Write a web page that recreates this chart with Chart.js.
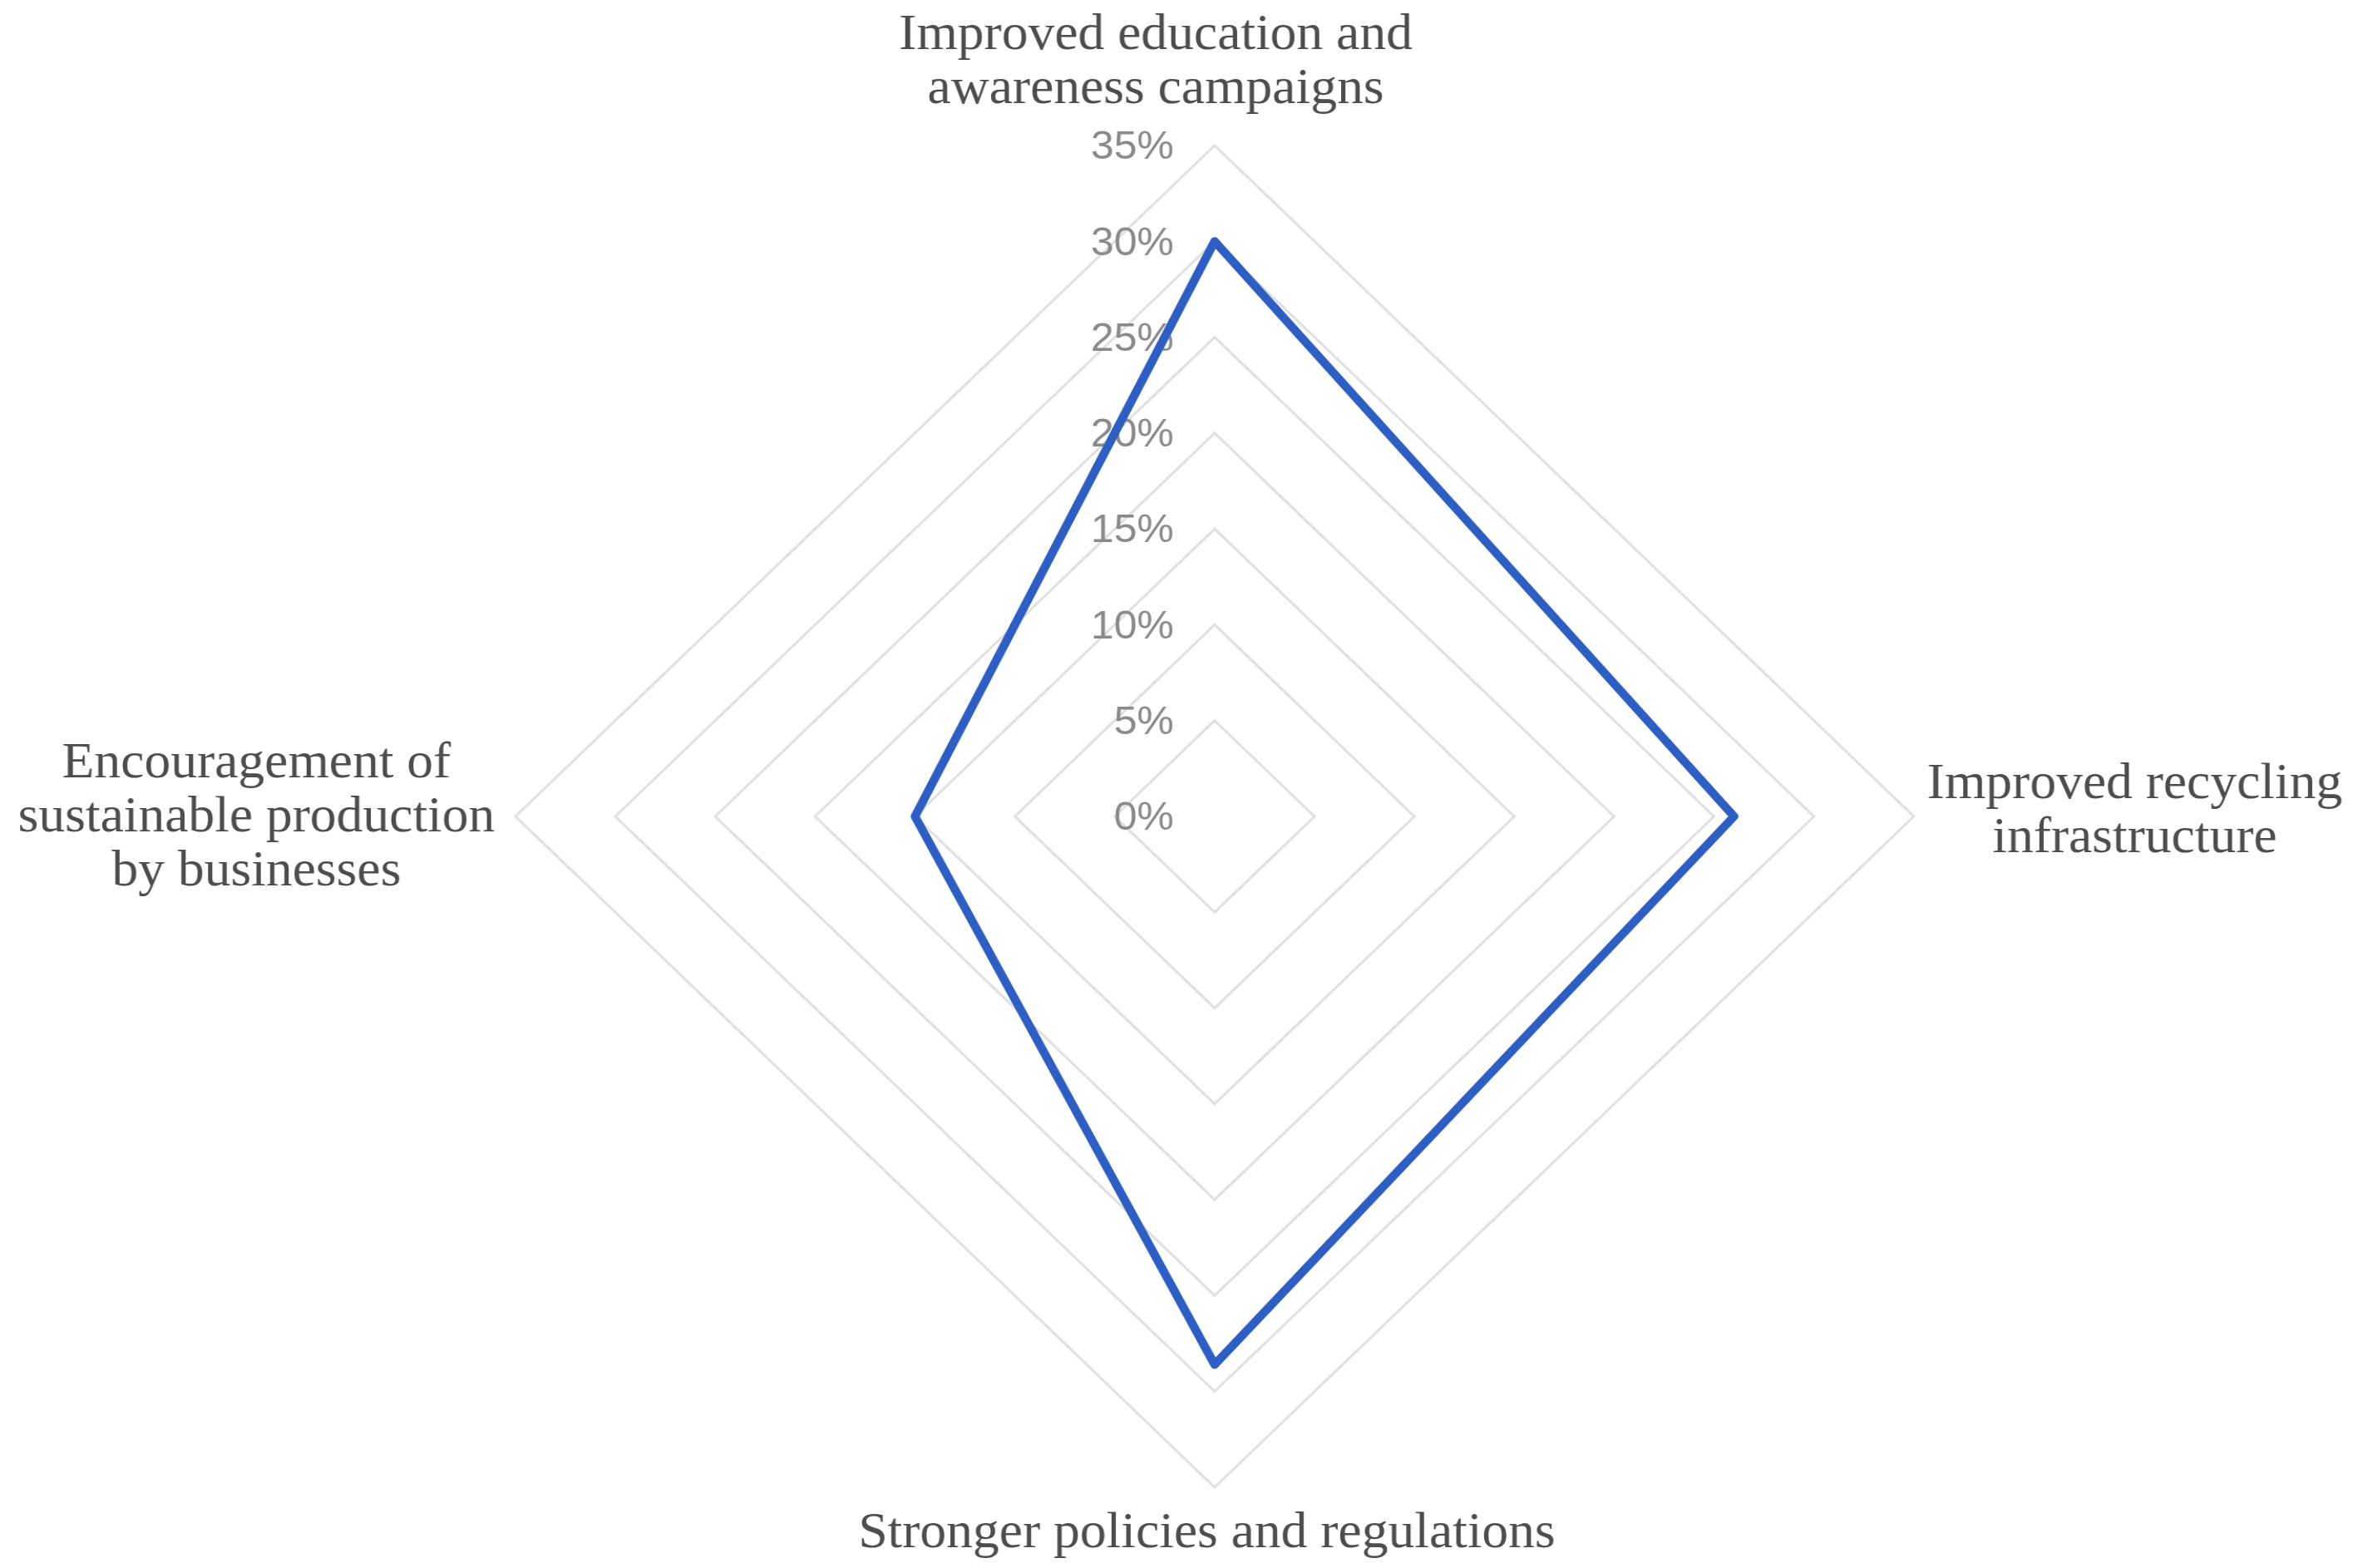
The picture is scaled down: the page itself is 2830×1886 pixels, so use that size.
<!DOCTYPE html>
<html>
<head>
<meta charset="utf-8">
<script src="https://cdn.jsdelivr.net/npm/chart.js@4.4.1/dist/chart.umd.min.js"></script>
<style>
  html, body { margin: 0; padding: 0; background: #ffffff; overflow: hidden; }
  #wrap { position: absolute; left: 0; top: 0; width: 2716px; height: 1886px;
          transform: scaleX(1.04197); transform-origin: 0 0; }
</style>
</head>
<body>
<div id="wrap"><canvas id="c"></canvas></div>
<script>
// ---- data ----
const categories = [
  ['Improved education and', 'awareness campaigns'],
  ['Improved recycling', 'infrastructure'],
  ['Stronger policies and regulations'],
  ['Encouragement of', 'sustainable production', 'by businesses']
];
const values = [30, 26, 28.6, 15];
const tickValues = [0, 5, 10, 15, 20, 25, 30, 35];
const tickLabels = ['0%', '5%', '10%', '15%', '20%', '25%', '30%', '35%'];

// ---- style / layout (not data) ----
const labelOffsets = [[-68, -100], [255, -6], [-9, 56], [-299, 2]];
const labelLineHeight = 65;

const tickLabelPlugin = {
  id: 'tickLabelPlugin',
  beforeDatasetsDraw(chart) {
    const s = chart.scales.r, ctx = chart.ctx;
    ctx.save();
    ctx.font = '48px "Liberation Sans", Arial, sans-serif';
    ctx.fillStyle = '#8a8a8a';
    ctx.textAlign = 'right';
    ctx.textBaseline = 'middle';
    tickValues.forEach((v, i) => {
      const d = s.getDistanceFromCenterForValue(v);
      ctx.fillText(tickLabels[i], s.xCenter - 47, s.yCenter - d + 3);
    });
    ctx.restore();
  },
  afterDraw(chart) {
    const s = chart.scales.r, ctx = chart.ctx;
    ctx.save();
    ctx.font = '61px "Liberation Serif", "Times New Roman", serif';
    ctx.fillStyle = '#4d4d4d';
    ctx.textAlign = 'center';
    ctx.textBaseline = 'middle';
    categories.forEach((lines, i) => {
      const p = s.getPointPosition(i, s.drawingArea);
      const cx = p.x + labelOffsets[i][0];
      const cy = p.y + labelOffsets[i][1];
      const n = lines.length;
      lines.forEach((t, k) => {
        ctx.fillText(t, cx, cy + (k - (n - 1) / 2) * labelLineHeight);
      });
    });
    ctx.restore();
  }
};

new Chart(document.getElementById('c'), {
  type: 'radar',
  data: {
    labels: categories.map(l => l.join(' ')),
    datasets: [{
      data: values,
      borderColor: '#2c5ec4',
      borderWidth: 10,
      borderJoinStyle: 'round',
      fill: false,
      pointRadius: 0,
      pointHoverRadius: 0
    }]
  },
  options: {
    responsive: true,
    maintainAspectRatio: false,
    animation: false,
    layout: { padding: { left: 595, right: 507, top: 175, bottom: 97 } },
    plugins: { legend: { display: false }, tooltip: { enabled: false } },
    scales: {
      r: {
        min: 0,
        max: 35,
        ticks: { display: false, stepSize: 5 },
        pointLabels: { display: false },
        angleLines: { display: false },
        grid: { color: '#e0e0e0', lineWidth: 3 }
      }
    }
  },
  plugins: [tickLabelPlugin]
});
</script>
</body>
</html>
